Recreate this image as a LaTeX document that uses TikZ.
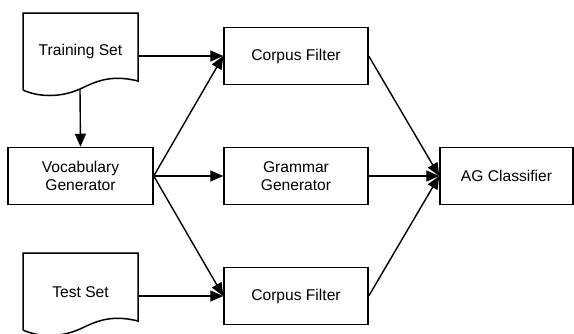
\documentclass[tikz,border=0pt]{standalone}
\usepackage{fontspec}
\setmainfont{Liberation Sans}
\usetikzlibrary{arrows.meta,calc}
\begin{document}
\begin{tikzpicture}[x=1pt,y=-1pt,
  every node/.style={font=\fontsize{15.6}{18}\selectfont, align=center, inner sep=0pt},
  box/.style={draw, line width=1.5pt, minimum width=144pt, minimum height=57pt},
  doc/.style={minimum width=115pt, minimum height=77pt},
  arr/.style={line width=1.4pt, -{Triangle[length=13pt,width=11pt]}},
  line join=miter]
\useasboundingbox (0,0) rectangle (574,333);
% documents
\node[doc] (ts) at (80.5,51.5) {Training Set};
\draw[line width=1.5pt] (23,90) -- (23,13) -- (138,13) -- (138,81)
  .. controls (110,74) and (95,82) .. (80,89)
  .. controls (60,98) and (38,97) .. (23,90);
\coordinate (tsb) at (80,89);
\node[doc] (te) at (80.5,292) {Test Set};
\draw[line width=1.5pt] (23,330) -- (23,253) -- (138,253) -- (138,321)
  .. controls (110,314) and (95,322) .. (80,329)
  .. controls (60,338) and (38,337) .. (23,330);
% boxes
\node[box, minimum width=145pt] (vg) at (80.5,176) {Vocabulary\\Generator};
\node[box] (cf1) at (296,56) {Corpus Filter};
\node[box] (gg) at (296,176) {Grammar\\Generator};
\node[box] (cf2) at (296,296) {Corpus Filter};
\node[box, minimum width=133pt] (ag) at (506.5,176) {AG Classifier};
% connectors
\draw[arr] (tsb) -- (vg.north);
\draw[arr] (ts.east |- cf1.west) -- (cf1.west);
\draw[arr] (te.east |- cf2.west) -- (cf2.west);
\draw[arr] (vg.east) -- (cf1.west);
\draw[arr] (vg.east) -- (gg.west);
\draw[arr] (vg.east) -- (cf2.west);
\draw[arr] (cf1.east) -- (ag.west);
\draw[arr] (gg.east) -- (ag.west);
\draw[arr] (cf2.east) -- (ag.west);
\end{tikzpicture}
\end{document}
